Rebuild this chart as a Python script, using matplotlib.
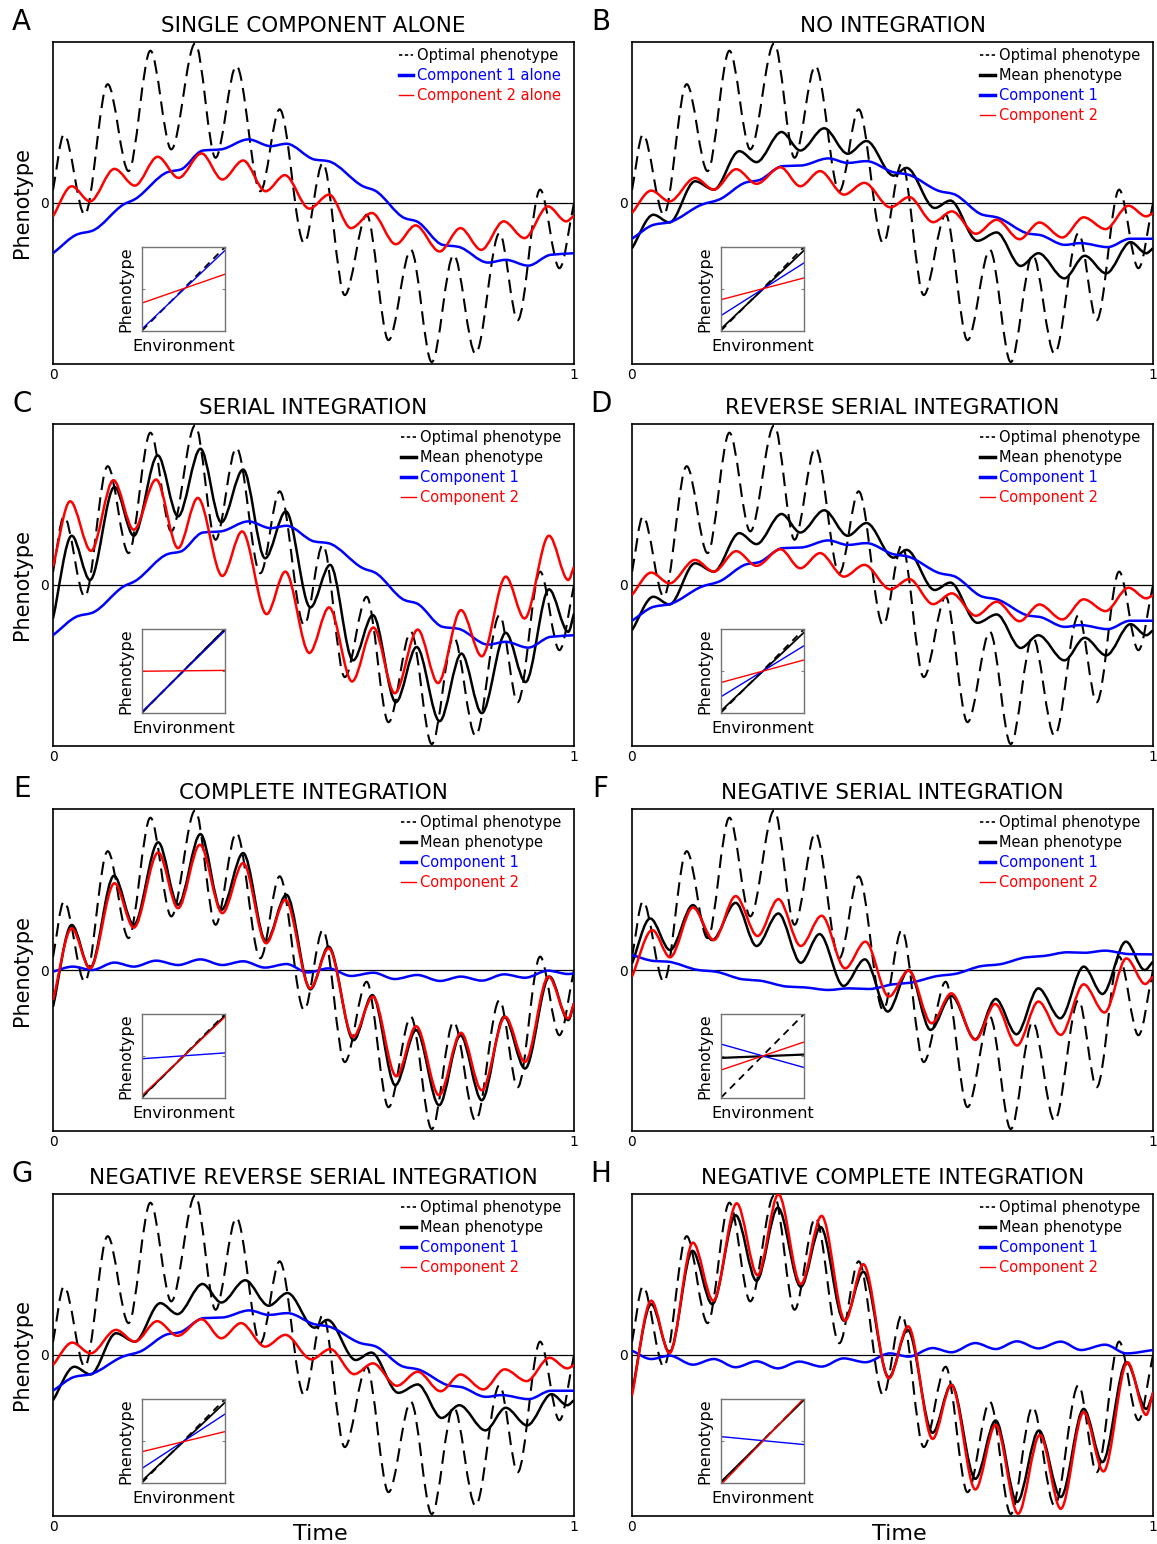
import numpy as np
import matplotlib
matplotlib.use('Agg')
import matplotlib.pyplot as plt
from matplotlib.path import Path
from matplotlib.patches import PathPatch
from matplotlib.lines import Line2D

# optimal phenotype (same environment in every panel), read at its extrema
opt_t = [0, 0.021, 0.061, 0.105, 0.145, 0.187, 0.227, 0.273, 0.312, 0.352, 0.398, 0.435, 0.482,
         0.518, 0.560, 0.602, 0.644, 0.687, 0.727, 0.769, 0.811, 0.857, 0.892, 0.935, 0.972, 1.0]
opt = [0.08, 0.426, -0.073, 0.738, 0.198, 0.946, 0.333, 0.992, 0.281, 0.852, 0.073, 0.582, -0.249,
       0.249, -0.572, -0.073, -0.852, -0.291, -0.988, -0.322, -0.936, -0.187, -0.728, 0.083, -0.405, 0.0]

# A: single component alone
a_c1_t = [0, 0.048, 0.075, 0.135, 0.158, 0.221, 0.245, 0.288, 0.322, 0.375, 0.418, 0.448, 0.502,
          0.528, 0.595, 0.618, 0.675, 0.698, 0.748, 0.778, 0.835, 0.869, 0.912, 0.955, 1.0]
a_c1 = [-0.312, -0.193, -0.173, -0.010, 0.025, 0.193, 0.208, 0.326, 0.333, 0.395, 0.353, 0.368, 0.270,
        0.260, 0.104, 0.077, -0.094, -0.114, -0.260, -0.272, -0.370, -0.353, -0.389, -0.322, -0.312]
a_c2_t = [0, 0.036, 0.071, 0.118, 0.157, 0.201, 0.241, 0.285, 0.325, 0.365, 0.408, 0.445, 0.492,
          0.530, 0.572, 0.612, 0.658, 0.696, 0.742, 0.782, 0.822, 0.865, 0.905, 0.950, 0.985, 1.0]
a_c2 = [-0.083, 0.104, 0.010, 0.212, 0.108, 0.287, 0.156, 0.308, 0.146, 0.264, 0.073, 0.173, -0.035,
        0.052, -0.156, -0.062, -0.256, -0.139, -0.301, -0.156, -0.291, -0.114, -0.218, -0.021, -0.114, -0.079]

# B: no integration (D and G look the same)
b_mean_t = [0, 0.041, 0.072, 0.121, 0.157, 0.206, 0.239, 0.287, 0.323, 0.369, 0.414, 0.450, 0.502,
            0.527, 0.581, 0.611, 0.663, 0.700, 0.746, 0.780, 0.830, 0.869, 0.910, 0.957, 0.987, 1.0]
b_mean = [-0.281, -0.073, -0.121, 0.135, 0.083, 0.322, 0.254, 0.441, 0.326, 0.464, 0.306, 0.385, 0.170,
          0.218, -0.031, 0.015, -0.235, -0.183, -0.391, -0.312, -0.468, -0.328, -0.437, -0.243, -0.312, -0.281]
b_c1_t = [0, 0.042, 0.072, 0.134, 0.167, 0.220, 0.243, 0.289, 0.325, 0.377, 0.414, 0.450, 0.502,
          0.529, 0.591, 0.617, 0.673, 0.700, 0.762, 0.782, 0.831, 0.861, 0.913, 0.956, 1.0]
b_c1 = [-0.222, -0.135, -0.119, -0.010, 0.021, 0.129, 0.141, 0.229, 0.233, 0.277, 0.249, 0.260, 0.191,
        0.177, 0.073, 0.056, -0.073, -0.089, -0.191, -0.198, -0.260, -0.249, -0.274, -0.222, -0.222]
b_c2_t = [0, 0.037, 0.072, 0.121, 0.157, 0.200, 0.239, 0.285, 0.323, 0.361, 0.407, 0.446, 0.496,
          0.532, 0.578, 0.614, 0.660, 0.700, 0.744, 0.782, 0.826, 0.867, 0.909, 0.953, 0.987, 1.0]
b_c2 = [-0.062, 0.077, 0.010, 0.156, 0.083, 0.210, 0.119, 0.222, 0.104, 0.198, 0.052, 0.125, -0.027,
        0.037, -0.119, -0.052, -0.191, -0.104, -0.225, -0.121, -0.214, -0.089, -0.162, -0.017, -0.083, -0.062]

# C: serial integration (component 1 same as A)
c_mean_t = [0, 0.036, 0.071, 0.118, 0.155, 0.201, 0.240, 0.283, 0.323, 0.365, 0.407, 0.447, 0.494,
            0.532, 0.576, 0.614, 0.658, 0.698, 0.742, 0.784, 0.823, 0.869, 0.907, 0.952, 0.989, 1.0]
c_mean = [-0.208, 0.306, 0.031, 0.609, 0.306, 0.805, 0.426, 0.846, 0.389, 0.717, 0.166, 0.457, -0.139,
          0.125, -0.468, -0.187, -0.728, -0.385, -0.846, -0.426, -0.796, -0.297, -0.603, -0.027, -0.291, -0.177]
c_c2_t = [0, 0.033, 0.073, 0.116, 0.155, 0.198, 0.240, 0.278, 0.325, 0.363, 0.410, 0.446, 0.492,
          0.530, 0.574, 0.615, 0.656, 0.700, 0.739, 0.783, 0.823, 0.869, 0.905, 0.952, 0.989, 1.0]
c_c2 = [0.114, 0.520, 0.212, 0.651, 0.343, 0.655, 0.229, 0.541, 0.056, 0.333, -0.181, 0.083, -0.422,
        -0.139, -0.599, -0.264, -0.672, -0.277, -0.609, -0.156, -0.443, 0.052, -0.208, 0.306, 0.031, 0.114]

# E: complete integration
e_mean_t = [0, 0.036, 0.071, 0.117, 0.155, 0.202, 0.240, 0.283, 0.323, 0.365, 0.409, 0.448, 0.494,
            0.529, 0.577, 0.613, 0.657, 0.697, 0.741, 0.782, 0.823, 0.866, 0.906, 0.953, 0.989, 1.0]
e_mean = [-0.228, 0.280, 0.010, 0.585, 0.280, 0.793, 0.405, 0.844, 0.373, 0.726, 0.176, 0.467, -0.120,
          0.145, -0.436, -0.156, -0.716, -0.373, -0.840, -0.405, -0.809, -0.290, -0.612, -0.041, -0.311, -0.207]
e_c1_t = [0, 0.038, 0.075, 0.118, 0.155, 0.198, 0.240, 0.283, 0.325, 0.365, 0.407, 0.448, 0.489,
          0.529, 0.572, 0.615, 0.656, 0.699, 0.743, 0.783, 0.823, 0.866, 0.906, 0.950, 0.989, 1.0]
e_c1 = [-0.010, 0.021, 0.0, 0.046, 0.021, 0.058, 0.031, 0.066, 0.031, 0.054, 0.015, 0.037, -0.015,
        0.010, -0.037, -0.017, -0.056, -0.031, -0.068, -0.041, -0.066, -0.027, -0.048, -0.004, -0.025, -0.021]
e_c2_t = [0, 0.036, 0.071, 0.118, 0.155, 0.202, 0.240, 0.282, 0.325, 0.365, 0.409, 0.446, 0.494,
          0.529, 0.576, 0.614, 0.659, 0.697, 0.741, 0.783, 0.823, 0.868, 0.906, 0.951, 0.989, 1.0]
e_c2 = [-0.187, 0.259, 0.010, 0.539, 0.263, 0.730, 0.384, 0.778, 0.353, 0.664, 0.166, 0.436, -0.114,
        0.135, -0.415, -0.166, -0.660, -0.349, -0.778, -0.390, -0.747, -0.290, -0.571, -0.041, -0.301, -0.207]

# F: negative serial integration
f_mean_t = [0, 0.035, 0.073, 0.117, 0.154, 0.199, 0.239, 0.281, 0.324, 0.360, 0.406, 0.447, 0.491,
            0.531, 0.573, 0.613, 0.659, 0.698, 0.738, 0.780, 0.822, 0.867, 0.903, 0.948, 0.984, 1.0]
f_mean = [0.041, 0.320, 0.124, 0.403, 0.186, 0.417, 0.149, 0.351, 0.045, 0.223, -0.099, 0.066, -0.258,
          0.0, -0.372, -0.161, -0.430, -0.180, -0.399, -0.114, -0.300, 0.021, -0.149, 0.176, 0.0, 0.052]
f_c1_t = [0, 0.042, 0.068, 0.127, 0.160, 0.213, 0.245, 0.298, 0.331, 0.377, 0.416, 0.455, 0.501,
          0.534, 0.587, 0.619, 0.672, 0.705, 0.757, 0.790, 0.836, 0.869, 0.908, 0.954, 1.0]
f_c1 = [0.093, 0.056, 0.052, 0.0, -0.010, -0.058, -0.066, -0.103, -0.108, -0.124, -0.114, -0.118, -0.089,
        -0.079, -0.037, -0.025, 0.025, 0.035, 0.079, 0.087, 0.110, 0.107, 0.120, 0.099, 0.097]
f_c2_t = [0, 0.039, 0.073, 0.117, 0.157, 0.199, 0.241, 0.281, 0.324, 0.364, 0.409, 0.448, 0.493,
          0.531, 0.575, 0.613, 0.659, 0.697, 0.739, 0.780, 0.823, 0.867, 0.907, 0.949, 0.985, 1.0]
f_c2 = [-0.041, 0.248, 0.079, 0.388, 0.186, 0.459, 0.211, 0.440, 0.149, 0.337, 0.010, 0.176, -0.165,
        -0.004, -0.331, -0.145, -0.434, -0.211, -0.469, -0.196, -0.403, -0.089, -0.264, 0.072, -0.087, -0.041]

# H: negative complete integration
h_mean_t = [0, 0.037, 0.072, 0.116, 0.154, 0.199, 0.239, 0.280, 0.324, 0.362, 0.407, 0.444, 0.493,
            0.529, 0.577, 0.613, 0.659, 0.698, 0.739, 0.781, 0.823, 0.867, 0.903, 0.949, 0.987, 1.0]
h_mean = [-0.231, 0.316, 0.017, 0.647, 0.316, 0.868, 0.461, 0.915, 0.424, 0.795, 0.213, 0.517, -0.138,
          0.157, -0.483, -0.184, -0.769, -0.407, -0.913, -0.469, -0.882, -0.335, -0.665, -0.045, -0.335, -0.242]
h_c1_t = [0, 0.037, 0.072, 0.117, 0.157, 0.199, 0.239, 0.280, 0.321, 0.364, 0.406, 0.448, 0.495,
          0.531, 0.577, 0.613, 0.659, 0.698, 0.739, 0.780, 0.823, 0.862, 0.908, 0.949, 1.0]
h_c1 = [0.027, -0.025, -0.004, -0.060, -0.025, -0.076, -0.039, -0.083, -0.041, -0.072, -0.021, -0.045, 0.010,
        -0.010, 0.043, 0.017, 0.074, 0.037, 0.085, 0.041, 0.083, 0.031, 0.064, 0.010, 0.031]
h_c2_t = [0, 0.037, 0.072, 0.117, 0.156, 0.201, 0.241, 0.281, 0.324, 0.364, 0.409, 0.444, 0.493,
          0.530, 0.577, 0.613, 0.659, 0.698, 0.741, 0.783, 0.823, 0.867, 0.905, 0.951, 0.987, 1.0]
h_c2 = [-0.252, 0.337, 0.012, 0.698, 0.337, 0.942, 0.496, 0.998, 0.440, 0.864, 0.213, 0.564, -0.145,
        0.178, -0.521, -0.186, -0.835, -0.434, -0.986, -0.496, -0.955, -0.355, -0.723, -0.045, -0.372, -0.231]

# insets: reaction norms, phenotype at environment -1 and +1
env = [-1, 1]
ins_opt = [-1, 1]
ins_mean = {'A': None, 'B': [-0.96, 0.92], 'C': [-1.0, 1.0], 'D': [-0.96, 0.92],
            'E': [-0.98, 0.96], 'F': [-0.05, 0.03], 'G': [-0.96, 0.92], 'H': [-0.98, 0.98]}
ins_c1 = {'A': [-0.96, 0.92], 'B': [-0.64, 0.62], 'C': [-0.98, 0.96], 'D': [-0.62, 0.60],
          'E': [-0.07, 0.07], 'F': [0.28, -0.28], 'G': [-0.66, 0.64], 'H': [0.10, -0.09]}
ins_c2 = {'A': [-0.34, 0.35], 'B': [-0.26, 0.26], 'C': [-0.01, 0.01], 'D': [-0.28, 0.26],
          'E': [-0.95, 0.93], 'F': [-0.34, 0.33], 'G': [-0.26, 0.22], 'H': [-1.05, 1.02]}

titles = {'A': 'SINGLE COMPONENT ALONE', 'B': 'NO INTEGRATION', 'C': 'SERIAL INTEGRATION',
          'D': 'REVERSE SERIAL INTEGRATION', 'E': 'COMPLETE INTEGRATION',
          'F': 'NEGATIVE SERIAL INTEGRATION', 'G': 'NEGATIVE REVERSE SERIAL INTEGRATION',
          'H': 'NEGATIVE COMPLETE INTEGRATION'}

curves = {
    'A': (None, (a_c1_t, a_c1), (a_c2_t, a_c2)),
    'B': ((b_mean_t, b_mean), (b_c1_t, b_c1), (b_c2_t, b_c2)),
    'C': ((c_mean_t, c_mean), (a_c1_t, a_c1), (c_c2_t, c_c2)),
    'D': ((b_mean_t, b_mean), (b_c1_t, b_c1), (b_c2_t, b_c2)),
    'E': ((e_mean_t, e_mean), (e_c1_t, e_c1), (e_c2_t, e_c2)),
    'F': ((f_mean_t, f_mean), (f_c1_t, f_c1), (f_c2_t, f_c2)),
    'G': ((b_mean_t, b_mean), (b_c1_t, b_c1), (b_c2_t, b_c2)),
    'H': ((h_mean_t, h_mean), (h_c1_t, h_c1), (h_c2_t, h_c2)),
}

BLUE = '#0000ff'
RED = '#ff0000'


def smooth(ax, t, y, **kw):
    # draw a smooth curve through the read points with cubic bezier segments
    t = np.asarray(t, float)
    y = np.asarray(y, float)
    h = np.diff(t)
    d = np.diff(y) / h
    m = np.zeros_like(y)
    for i in range(1, len(t) - 1):
        if d[i - 1] * d[i] > 0:
            m[i] = 2.0 / (1.0 / d[i - 1] + 1.0 / d[i])
    m[0], m[-1] = d[0], d[-1]
    verts = [(t[0], y[0])]
    codes = [Path.MOVETO]
    for i in range(len(t) - 1):
        verts += [(t[i] + h[i] / 3, y[i] + m[i] * h[i] / 3),
                  (t[i + 1] - h[i] / 3, y[i + 1] - m[i + 1] * h[i] / 3),
                  (t[i + 1], y[i + 1])]
        codes += [Path.CURVE4] * 3
    ax.add_patch(PathPatch(Path(verts, codes), fill=False, capstyle='butt', joinstyle='round', **kw))


W, H = 1157, 1544
fig = plt.figure(figsize=(W / 100, H / 100), dpi=100)
lefts = [53, 632]
tops = [42, 424, 809, 1194]
letters = ['A', 'B', 'C', 'D', 'E', 'F', 'G', 'H']

for k, key in enumerate(letters):
    row, col = divmod(k, 2)
    ax = fig.add_axes([lefts[col] / W, 1 - (tops[row] + 322) / H, 521 / W, 322 / H])
    ax.set_xlim(0, 1)
    ax.set_ylim(-1, 1)
    ax.axhline(0, color='k', lw=0.9, zorder=1)

    mean, c1, c2 = curves[key]
    smooth(ax, opt_t, opt, color='k', lw=1.5, linestyle=(0, (6.5, 3.5)), zorder=2)
    if mean is not None:
        smooth(ax, *mean, color='k', lw=1.8, zorder=3)
    smooth(ax, *c1, color=BLUE, lw=1.8, zorder=4)
    smooth(ax, *c2, color=RED, lw=1.8, zorder=5)

    ax.set_xticks([0, 1])
    ax.set_xticklabels(['0', '1'])
    ax.set_yticks([0])
    ax.set_yticklabels(['0'])
    ax.tick_params(length=0, labelsize=10, pad=3)
    for s in ax.spines.values():
        s.set_linewidth(1.2)
    ax.set_title(titles[key], fontsize=15.5, pad=7)
    ax.text(-0.06, 1.062, key, transform=ax.transAxes, fontsize=20, ha='center', va='center')
    if col == 0:
        ax.set_ylabel('Phenotype', fontsize=15)
        ax.yaxis.set_label_coords(-0.04, 0.5)
    if row == 3:
        ax.set_xlabel('Time', fontsize=16)
        ax.xaxis.set_label_coords(0.513, -0.025)

    # legend
    if key == 'A':
        handles = [Line2D([], [], color='k', lw=1.2, linestyle=(0, (2, 1.5))),
                   Line2D([], [], color=BLUE, lw=2.5),
                   Line2D([], [], color=RED, lw=1.0)]
        labels = ['Optimal phenotype', 'Component 1 alone', 'Component 2 alone']
        tcols = ['k', BLUE, RED]
    else:
        handles = [Line2D([], [], color='k', lw=1.2, linestyle=(0, (2, 1.5))),
                   Line2D([], [], color='k', lw=2.5),
                   Line2D([], [], color=BLUE, lw=2.5),
                   Line2D([], [], color=RED, lw=1.0)]
        labels = ['Optimal phenotype', 'Mean phenotype', 'Component 1', 'Component 2']
        tcols = ['k', 'k', BLUE, RED]
    leg = ax.legend(handles, labels, loc='upper right', bbox_to_anchor=(0.975, 0.98),
                    frameon=False, fontsize=10.5, handlelength=1.0, handletextpad=0.25,
                    labelspacing=0.33, borderpad=0, borderaxespad=0)
    for txt, c in zip(leg.get_texts(), tcols):
        txt.set_color(c)

    # inset reaction norm
    ins = ax.inset_axes([0.171, 0.104, 0.159, 0.259])
    ins.set_xlim(-1, 1)
    ins.set_ylim(-1, 1)
    ins.plot(env, ins_opt, color='k', lw=1.3, linestyle=(0, (4, 3)))
    if ins_mean[key] is not None:
        ins.plot(env, ins_mean[key], color='k', lw=1.6 if key == 'F' else 1.3)
    ins.plot(env, ins_c1[key], color=BLUE, lw=1.0)
    ins.plot(env, ins_c2[key], color=RED, lw=1.0)
    ins.set_xticks([])
    ins.set_yticks([0])
    ins.tick_params(axis='y', direction='in', length=2.5, left=True, right=True,
                    labelleft=False, color='0.5')
    for s in ins.spines.values():
        s.set_color('0.45')
        s.set_linewidth(1.0)
    ins.set_xlabel('Environment', fontsize=11.5, labelpad=6)
    ins.set_ylabel('Phenotype', fontsize=11.5, labelpad=6)

fig.savefig('out.png', dpi=100)
